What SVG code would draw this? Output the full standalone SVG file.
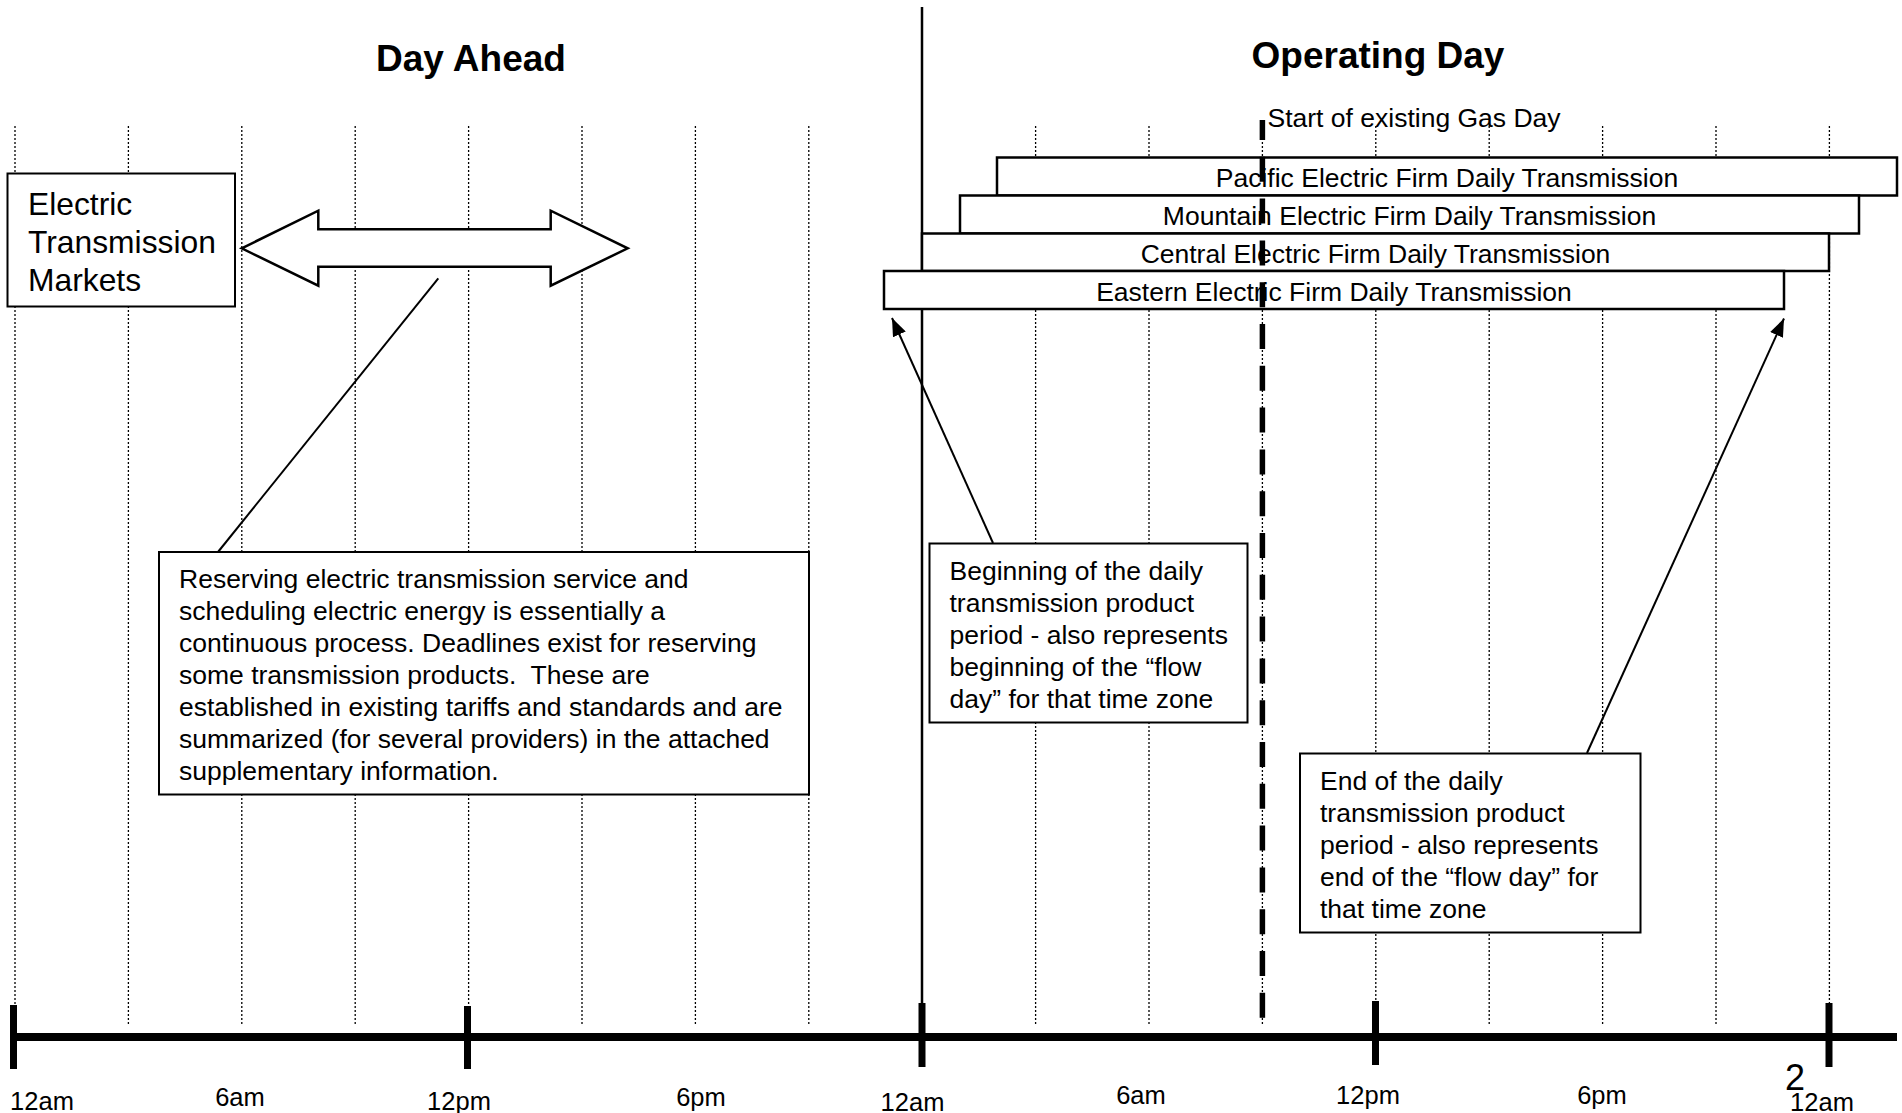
<svg xmlns="http://www.w3.org/2000/svg" width="1902" height="1113" viewBox="0 0 1902 1113">
  <style>
    .grid { stroke: #000; stroke-width: 1.3; stroke-dasharray: 2 2; fill: none; }
    .box { fill: #fff; stroke: #000; stroke-width: 2; }
    .bar { fill: #fff; stroke: #000; stroke-width: 2.5; }
    .t { font-family: "Liberation Sans", Arial, sans-serif; fill: #000; }
    .body { font-size: 26.5px; }
    .axislbl { font-size: 25.5px; text-anchor: middle; }
    .title { font-size: 37px; font-weight: bold; text-anchor: middle; }
    .barlbl { font-size: 26.5px; text-anchor: middle; }
    .tick { stroke: #000; stroke-width: 7; }
    .conn { stroke: #000; stroke-width: 2; fill: none; }
  </style>
  <defs>
    <marker id="head" viewBox="0 0 18 14" refX="18" refY="7" markerWidth="18" markerHeight="14" markerUnits="userSpaceOnUse" orient="auto">
      <path d="M0,0 L18,7 L0,14 z" fill="#000"/>
    </marker>
  </defs>
  <rect x="0" y="0" width="1902" height="1113" fill="#fff"/>

  <!-- three-hour grid -->
  <g id="grid">
    <line class="grid" x1="15" y1="126" x2="15" y2="1025"/>
    <line class="grid" x1="128.4" y1="126" x2="128.4" y2="1025"/>
    <line class="grid" x1="241.8" y1="126" x2="241.8" y2="1025"/>
    <line class="grid" x1="355.2" y1="126" x2="355.2" y2="1025"/>
    <line class="grid" x1="468.6" y1="126" x2="468.6" y2="1025"/>
    <line class="grid" x1="582" y1="126" x2="582" y2="1025"/>
    <line class="grid" x1="695.4" y1="126" x2="695.4" y2="1025"/>
    <line class="grid" x1="808.8" y1="126" x2="808.8" y2="1025"/>
    <line class="grid" x1="1035.6" y1="126" x2="1035.6" y2="1025"/>
    <line class="grid" x1="1149" y1="126" x2="1149" y2="1025"/>
    <line class="grid" x1="1262.4" y1="126" x2="1262.4" y2="1025"/>
    <line class="grid" x1="1375.8" y1="126" x2="1375.8" y2="1025"/>
    <line class="grid" x1="1489.2" y1="126" x2="1489.2" y2="1025"/>
    <line class="grid" x1="1602.6" y1="126" x2="1602.6" y2="1025"/>
    <line class="grid" x1="1716" y1="126" x2="1716" y2="1025"/>
    <line class="grid" x1="1829.4" y1="126" x2="1829.4" y2="1025"/>
  </g>

  <!-- day boundary -->
  <line id="day-boundary" x1="922" y1="7" x2="922" y2="1036" stroke="#000" stroke-width="2.5"/>

  <!-- time axis -->
  <g id="axis">
    <line x1="10" y1="1037" x2="1897" y2="1037" stroke="#000" stroke-width="8"/>
    <line class="tick" x1="13.5" y1="1005" x2="13.5" y2="1069"/>
    <line class="tick" x1="467.5" y1="1006" x2="467.5" y2="1069"/>
    <line class="tick" x1="922" y1="1003" x2="922" y2="1067"/>
    <line class="tick" x1="1375.5" y1="1001" x2="1375.5" y2="1065"/>
    <line class="tick" x1="1829" y1="1003" x2="1829" y2="1067"/>
    <text class="t axislbl" x="42" y="1109.5">12am</text>
    <text class="t axislbl" x="240" y="1106">6am</text>
    <text class="t axislbl" x="459" y="1109.5">12pm</text>
    <text class="t axislbl" x="701" y="1106">6pm</text>
    <text class="t axislbl" x="912.5" y="1110.5">12am</text>
    <text class="t axislbl" x="1141" y="1104">6am</text>
    <text class="t axislbl" x="1368" y="1104">12pm</text>
    <text class="t axislbl" x="1602" y="1104">6pm</text>
    <text class="t axislbl" x="1822" y="1111">12am</text>
    <text class="t" x="1795" y="1090" font-size="36" text-anchor="middle">2</text>
  </g>

  <!-- section titles -->
  <text id="title-day-ahead" class="t title" x="471" y="71">Day Ahead</text>
  <text id="title-operating-day" class="t title" x="1378" y="68">Operating Day</text>

  <!-- firm daily transmission periods by time zone -->
  <g id="bar-pacific">
    <rect class="bar" x="997" y="157.5" width="900" height="38"/>
    <text class="t barlbl" x="1447" y="187">Pacific Electric Firm Daily Transmission</text>
  </g>
  <g id="bar-mountain">
    <rect class="bar" x="960" y="195.5" width="899" height="38"/>
    <text class="t barlbl" x="1409.5" y="225">Mountain Electric Firm Daily Transmission</text>
  </g>
  <g id="bar-central">
    <rect class="bar" x="922" y="233.5" width="907" height="37.5"/>
    <text class="t barlbl" x="1375.5" y="263">Central Electric Firm Daily Transmission</text>
  </g>
  <g id="bar-eastern">
    <rect class="bar" x="884" y="271" width="900" height="38"/>
    <text class="t barlbl" x="1334" y="301">Eastern Electric Firm Daily Transmission</text>
  </g>

  <!-- gas day start -->
  <g id="gas-day">
    <line x1="1262.4" y1="120" x2="1262.4" y2="1018" stroke="#000" stroke-width="5.5" stroke-dasharray="25 16.8" stroke-dashoffset="5"/>
    <text class="t body" x="1267.5" y="127">Start of existing Gas Day</text>
  </g>

  <!-- markets box -->
  <g id="markets">
    <rect class="box" x="7.5" y="173.5" width="227.5" height="133"/>
    <text class="t" font-size="31.8" x="28" y="215">Electric</text>
    <text class="t" font-size="31.8" x="28" y="253">Transmission</text>
    <text class="t" font-size="31.8" x="28" y="291">Markets</text>
  </g>

  <!-- continuous two-way process -->
  <path id="process-arrow" d="M241.7,248.3 L318.3,210.7 L318.3,229.3 L550.7,229.3 L550.7,210.7 L627.7,248.3 L550.7,285.7 L550.7,266.7 L318.3,266.7 L318.3,285.7 Z" fill="#fff" stroke="#000" stroke-width="2.5" stroke-linejoin="miter"/>

  <!-- notes -->
  <g id="note-process">
    <rect class="box" x="159" y="552" width="650" height="242.5"/>
    <text class="t body" x="179" y="588">Reserving electric transmission service and</text>
    <text class="t body" x="179" y="620">scheduling electric energy is essentially a</text>
    <text class="t body" x="179" y="652">continuous process. Deadlines exist for reserving</text>
    <text class="t body" x="179" y="684" style="white-space:pre">some transmission products.  These are</text>
    <text class="t body" x="179" y="716">established in existing tariffs and standards and are</text>
    <text class="t body" x="179" y="748">summarized (for several providers) in the attached</text>
    <text class="t body" x="179" y="780">supplementary information.</text>
  </g>
  <g id="note-begin">
    <rect class="box" x="929.5" y="543.5" width="318" height="179"/>
    <text class="t body" x="949.5" y="580">Beginning of the daily</text>
    <text class="t body" x="949.5" y="612">transmission product</text>
    <text class="t body" x="949.5" y="644">period - also represents</text>
    <text class="t body" x="949.5" y="676">beginning of the “flow</text>
    <text class="t body" x="949.5" y="708">day” for that time zone</text>
  </g>
  <g id="note-end">
    <rect class="box" x="1300" y="753.5" width="340.5" height="179"/>
    <text class="t body" x="1320" y="790">End of the daily</text>
    <text class="t body" x="1320" y="822">transmission product</text>
    <text class="t body" x="1320" y="854">period - also represents</text>
    <text class="t body" x="1320" y="886">end of the “flow day” for</text>
    <text class="t body" x="1320" y="918">that time zone</text>
  </g>

  <!-- callout connectors -->
  <g id="connectors">
    <line class="conn" x1="438.3" y1="278.3" x2="218" y2="552"/>
    <line class="conn" x1="993" y1="543" x2="892" y2="318" marker-end="url(#head)"/>
    <line class="conn" x1="1587" y1="753" x2="1784" y2="318.5" marker-end="url(#head)"/>
  </g>
</svg>
